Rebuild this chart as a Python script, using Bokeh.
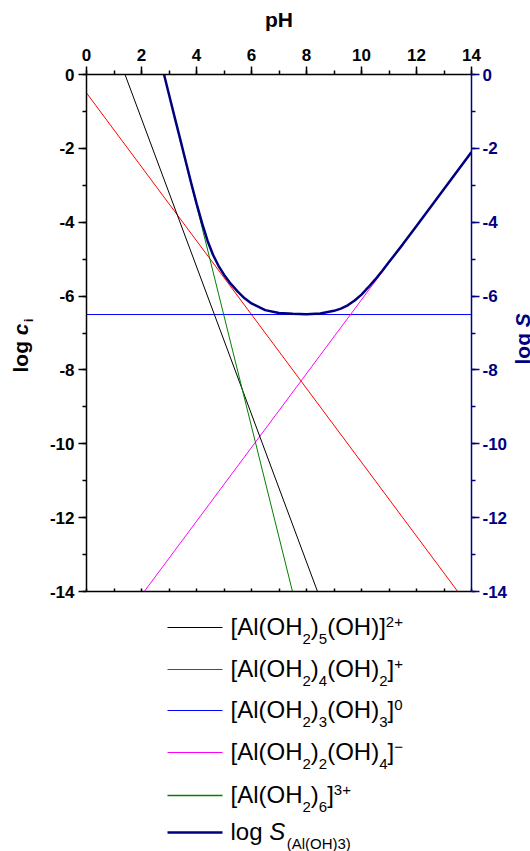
import math
from bokeh.plotting import figure
from bokeh.models import Range1d, LinearAxis, SingleIntervalTicker, ColumnDataSource
from bokeh.layouts import column, row
from bokeh.embed import file_html
from bokeh.resources import INLINE
from bokeh.core.properties import value

FONT = "Liberation Sans"
NAVY = "#000080"

# ---------------- data ----------------
ph_black = [1.4, 8.4]
logc_black = [0.0, -14.0]

ph_red = [0.0, 13.5]
logc_red = [-0.5, -14.0]

ph_blue = [0.0, 14.0]
logc_blue = [-6.5, -6.5]

ph_magenta = [2.1, 14.0]
logc_magenta = [-14.0, -2.1]

ph_green = [2.82, 7.49]
logc_green = [0.0, -14.0]

ph_S = [2.82, 3.0, 3.2, 3.4, 3.6, 3.8, 4.0, 4.2, 4.4, 4.6, 4.8, 5.0, 5.25, 5.5,
        5.75, 6.0, 6.5, 7.0, 7.5, 8.0, 8.5, 9.0, 9.25, 9.5, 9.75, 10.0, 10.25,
        10.5, 10.75, 11.0, 11.5, 12.0, 13.0, 14.0]
logS = [0.0, -0.54, -1.14, -1.73, -2.33, -2.92, -3.49, -4.02, -4.50, -4.88, -5.18,
        -5.42, -5.67, -5.88, -6.06, -6.20, -6.38, -6.46, -6.48, -6.49, -6.47, -6.40,
        -6.34, -6.25, -6.12, -5.96, -5.76, -5.55, -5.32, -5.08, -4.60, -4.10, -3.10, -2.10]

x_ticks = [0, 2, 4, 6, 8, 10, 12, 14]
y_ticks = [0, -2, -4, -6, -8, -10, -12, -14]

legend_labels = [
    [("[Al(OH", "n"), ("2", "sub"), (")", "n"), ("5", "sub"), ("(OH)]", "n"), ("2+", "sup")],
    [("[Al(OH", "n"), ("2", "sub"), (")", "n"), ("4", "sub"), ("(OH)", "n"), ("2", "sub"), ("]", "n"), ("+", "sup")],
    [("[Al(OH", "n"), ("2", "sub"), (")", "n"), ("3", "sub"), ("(OH)", "n"), ("3", "sub"), ("]", "n"), ("0", "sup")],
    [("[Al(OH", "n"), ("2", "sub"), (")", "n"), ("2", "sub"), ("(OH)", "n"), ("4", "sub"), ("]", "n"), ("\u2212", "sup")],
    [("[Al(OH", "n"), ("2", "sub"), (")", "n"), ("6", "sub"), ("]", "n"), ("3+", "sup")],
    [("log ", "n"), ("S", "it"), ("(Al(OH)3)", "sub")],
]
legend_colors = ["#000000", "#FF0000", "#0000FF", "#FF00FF", "#008000", NAVY]
legend_line_widths = [1.2, 1.2, 1.2, 1.2, 1.5, 2.5]
legend_rows_y = [627, 669, 710, 752, 795, 832]

left_title = [("log ", "bold"), ("c", "bold italic"), ("i", "sub")]
right_title = [("log ", "bold"), ("S", "bold italic")]

# Arial / Liberation Sans advance widths (1/1000 em)
REG = {'[': 278, ']': 278, 'A': 667, 'l': 222, '(': 333, ')': 333, 'O': 778, 'H': 722,
       '+': 584, '\u2212': 584, ' ': 278, 'o': 556, 'g': 556, 'S': 667}
BOLD = {'l': 278, 'o': 611, 'g': 611, ' ': 278, 'c': 556, 'S': 667, 'i': 278}


def tw(s, size, table):
    return sum(table.get(ch, 556) for ch in s) * size / 1000.0


SHIFT = 0.38  # em: empirical correction for where the renderer puts the baseline

TOP, BOTTOM = 74, 9
H1 = 600
TITLE = 21
TICK_FONT = "17px"


def blank_fig(w, h, xr, yr, **kw):
    f = figure(width=w, height=h, x_range=xr, y_range=yr, output_backend="svg",
               toolbar_location=None, x_axis_location=None, y_axis_location=None, **kw)
    f.outline_line_color = None
    f.grid.grid_line_color = None
    return f


# ---------------- left title panel ----------------
pl = blank_fig(40, H1, Range1d(0, 40), Range1d(H1 - BOTTOM, TOP),
               min_border_left=0, min_border_right=0, min_border_top=TOP, min_border_bottom=BOTTOM)
pos = 372.0
for txt, st in left_title:
    if st == "sub":
        sz = 12
        pl.text(x=[33 - SHIFT * sz], y=[pos], text=[txt], angle=math.pi / 2, text_font=value(FONT),
                text_font_size=value(f"{sz}px"), text_font_style="bold",
                text_align="left", text_baseline="alphabetic", text_color="black")
        pos -= tw(txt, sz, BOLD)
    else:
        pl.text(x=[28 - SHIFT * TITLE], y=[pos], text=[txt], angle=math.pi / 2, text_font=value(FONT),
                text_font_size=value(f"{TITLE}px"), text_font_style=st,
                text_align="left", text_baseline="alphabetic", text_color="black")
        pos -= tw(txt, TITLE, BOLD) + (1.5 if st == "bold italic" else 0)

# ---------------- right title panel (cut by the page edge) ----------------
pr = blank_fig(20, H1, Range1d(510, 530), Range1d(H1 - BOTTOM, TOP),
               min_border_left=0, min_border_right=0, min_border_top=TOP, min_border_bottom=BOTTOM)
pos = 364.0
for txt, st in right_title:
    pr.text(x=[530 - SHIFT * TITLE], y=[pos], text=[txt], angle=math.pi / 2, text_font=value(FONT),
            text_font_size=value(f"{TITLE}px"), text_font_style=st,
            text_align="left", text_baseline="alphabetic", text_color=NAVY)
    pos -= tw(txt, TITLE, BOLD)

# ---------------- main plot ----------------
p = figure(width=470, height=H1, x_range=Range1d(0, 14), y_range=Range1d(-14, 0),
           output_backend="svg", toolbar_location=None,
           x_axis_location=None, y_axis_location=None,
           min_border_left=46, min_border_right=37, min_border_top=TOP, min_border_bottom=BOTTOM)
p.outline_line_color = None
p.grid.grid_line_color = None


def style_axis(ax, color, standoff=4):
    ax.axis_line_color = color
    ax.axis_line_width = 1.5
    ax.major_tick_line_color = color
    ax.major_tick_line_width = 1.5
    ax.minor_tick_line_color = color
    ax.minor_tick_line_width = 1.5
    ax.major_tick_out = 8
    ax.major_tick_in = 0
    ax.minor_tick_out = 4
    ax.minor_tick_in = 0
    ax.major_label_text_font = FONT
    ax.major_label_text_font_style = "bold"
    ax.major_label_text_font_size = TICK_FONT
    ax.major_label_text_color = color
    ax.major_label_standoff = standoff


top_ax = LinearAxis(ticker=SingleIntervalTicker(interval=2, num_minor_ticks=2))
style_axis(top_ax, "black", standoff=6)
top_ax.major_label_overrides = {t: str(t) for t in x_ticks}
top_ax.axis_label = "pH"
top_ax.axis_label_text_font = FONT
top_ax.axis_label_text_font_style = "bold"
top_ax.axis_label_text_font_size = f"{TITLE}px"
top_ax.axis_label_text_color = "black"
top_ax.axis_label_standoff = 15
p.add_layout(top_ax, "above")

left_ax = LinearAxis(ticker=SingleIntervalTicker(interval=2, num_minor_ticks=2))
style_axis(left_ax, "black", standoff=4)
left_ax.major_label_overrides = {t: str(t) for t in y_ticks}
p.add_layout(left_ax, "left")

right_ax = LinearAxis(ticker=SingleIntervalTicker(interval=2, num_minor_ticks=2))
style_axis(right_ax, NAVY, standoff=3)
right_ax.major_label_overrides = {t: str(t) for t in y_ticks}
p.add_layout(right_ax, "right")

bot_ax = LinearAxis(ticker=SingleIntervalTicker(interval=1, num_minor_ticks=0))
style_axis(bot_ax, "black", standoff=0)
bot_ax.major_label_text_font_size = "1px"
bot_ax.major_label_text_alpha = 0
bot_ax.major_tick_out = 0
bot_ax.major_tick_in = 3
bot_ax.minor_tick_out = 0
bot_ax.minor_tick_in = 0
p.add_layout(bot_ax, "below")

p.line(ph_red, logc_red, line_color="#FF0000", line_width=1)
p.line(ph_blue, logc_blue, line_color="#0000FF", line_width=1)
p.line(ph_magenta, logc_magenta, line_color="#FF00FF", line_width=1)
p.line(ph_black, logc_black, line_color="#000000", line_width=1)
p.line(ph_green, logc_green, line_color="#008000", line_width=1)
p.line(ph_S, logS, line_color=NAVY, line_width=2.5)

# ---------------- legend panel ----------------
p2 = blank_fig(530, 851 - H1, Range1d(86, 473), Range1d(851, H1),
               min_border_left=86, min_border_right=57, min_border_top=0, min_border_bottom=0)

p2.segment(x0=[167] * 6, y0=legend_rows_y, x1=[222] * 6, y1=legend_rows_y,
           line_color=legend_colors, line_width=legend_line_widths)

MAIN, SMALL = 24, 15
groups = {k: dict(x=[], y=[], text=[]) for k in ("n", "it", "small")}
for row_y, pieces in zip(legend_rows_y, legend_labels):
    x = 230.0
    for txt, kind in pieces:
        if kind == "n":
            groups["n"]["x"].append(x); groups["n"]["y"].append(row_y + 8.5 - SHIFT * MAIN); groups["n"]["text"].append(txt)
            x += tw(txt, MAIN, REG)
        elif kind == "it":
            groups["it"]["x"].append(x); groups["it"]["y"].append(row_y + 8.5 - SHIFT * MAIN); groups["it"]["text"].append(txt)
            x += tw(txt, MAIN, REG) + 1.5
        else:
            dy = 17 if kind == "sub" else 0.5
            groups["small"]["x"].append(x); groups["small"]["y"].append(row_y + dy - SHIFT * SMALL); groups["small"]["text"].append(txt)
            x += tw(txt, SMALL, REG)

p2.text(x="x", y="y", text="text", source=ColumnDataSource(groups["n"]),
        text_font=value(FONT), text_font_size=value(f"{MAIN}px"), text_color="black",
        text_align="left", text_baseline="alphabetic")
p2.text(x="x", y="y", text="text", source=ColumnDataSource(groups["it"]),
        text_font=value(FONT), text_font_size=value(f"{MAIN}px"), text_font_style="italic",
        text_color="black", text_align="left", text_baseline="alphabetic")
p2.text(x="x", y="y", text="text", source=ColumnDataSource(groups["small"]),
        text_font=value(FONT), text_font_size=value(f"{SMALL}px"), text_color="black",
        text_align="left", text_baseline="alphabetic")

layout = column(row(pl, p, pr, spacing=0), p2, spacing=0)
open("out.html", "w").write(file_html(layout, INLINE))
